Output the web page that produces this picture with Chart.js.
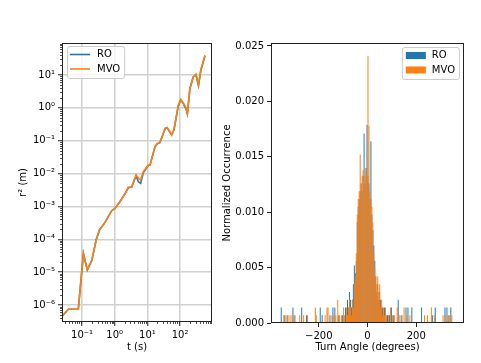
<!DOCTYPE html>
<html>
<head>
<meta charset="utf-8">
<script src="https://cdn.jsdelivr.net/npm/chart.js@4.4.0/dist/chart.umd.min.js"></script>
<style>
  body { margin: 0; background: #fff; }
  #wrap { position: relative; width: 481px; height: 363px; }
  canvas { position: absolute; top: 0; }
  #msdChart { left: 0; }
  #angleChart { left: 216px; }
</style>
</head>
<body>
<div id="wrap">
  <canvas id="msdChart" width="240" height="363"></canvas>
  <canvas id="angleChart" width="265" height="363"></canvas>
</div>
<script>
// left panel: r^2 vs t (log-log)
const timeSec = [0.025, 0.038, 0.077, 0.11, 0.145, 0.2, 0.27, 0.34, 0.5, 0.81,
  1.02, 1.45, 2.0, 2.6, 3.3, 4.5, 5.3, 6.2, 7.5, 10.6,
  12, 17, 20, 24, 35, 40, 49, 55, 65, 88,
  105, 125, 150, 167, 200, 253, 306, 365, 430, 490, 575];
const roR2 = [4.6e-7, 7.4e-7, 7.4e-7, 3.7e-5, 1.17e-5, 2.3e-5, 9.5e-5, 1.9e-4, 3.2e-4, 7.4e-4,
  8.7e-4, 1.4e-3, 2.3e-3, 3.7e-3, 3.9e-3, 8.6e-3, 5.6e-3, 5.0e-3, 1.05e-2, 1.75e-2,
  1.8e-2, 6.4e-2, 8.0e-2, 8.7e-2, 0.23, 0.25, 0.18, 0.15, 0.21, 1.15,
  1.75, 1.35, 0.95, 0.65, 3.9, 8.7, 10.2, 4.8, 13.5, 22, 38];
const mvoR2 = [4.6e-7, 7.4e-7, 7.4e-7, 3.7e-5, 1.17e-5, 2.3e-5, 9.5e-5, 1.9e-4, 3.2e-4, 7.4e-4,
  8.7e-4, 1.4e-3, 2.3e-3, 3.8e-3, 3.9e-3, 9.1e-3, 7.3e-3, 6.3e-3, 1.14e-2, 1.8e-2,
  1.8e-2, 6.6e-2, 8.3e-2, 8.7e-2, 0.24, 0.25, 0.19, 0.15, 0.22, 1.2,
  1.8, 1.4, 1.04, 0.67, 4.0, 8.9, 10.5, 5.0, 14, 23, 40];
const timeTicks = [0.1, 1, 10, 100];
const r2Ticks = [1e-6, 1e-5, 1e-4, 1e-3, 1e-2, 1e-1, 1, 10];

// right panel: turn angle histogram (4 degree bins, bin centres)
const roAngles = [-354, -342, -330, -306, -298, -270, -250, -194, -186, -154, -142, -134, -118, -102, -90, -82, -78, -74, -70,
  -66, -62, -58, -54, -50, -46, -42, -38, -34, -30, -26, -22, -18, -14, -10, -6, -2,
  2, 6, 10, 14, 18, 22, 26, 30, 34, 38, 42, 46, 50, 54, 58, 62, 66,
  70, 82, 90, 98, 106, 126, 138, 158, 166, 182, 222, 266, 278, 318, 326, 334, 342];
const roDensity = [0.0014, 0.0007, 0.0007, 0.0014, 0.0007, 0.0014, 0.0007, 0.0014, 0.0007, 0.0007, 0.0014, 0.0014, 0.0007, 0.0007, 0.0014, 0.0021, 0.0014, 0.0028, 0.0021,
  0.0014, 0.0021, 0.0035, 0.0052, 0.0045, 0.0056, 0.0091, 0.0105, 0.0112, 0.0119, 0.0126, 0.0119, 0.0133, 0.0171, 0.0126, 0.0140, 0.0179,
  0.0133, 0.0126, 0.0112, 0.0164, 0.0098, 0.0084, 0.0070, 0.0056, 0.0042, 0.0028, 0.0035, 0.0021, 0.0028, 0.0021, 0.0014, 0.0014, 0.0007,
  0.0014, 0.0007, 0.0007, 0.0014, 0.0007, 0.0021, 0.0007, 0.0014, 0.0014, 0.0014, 0.0014, 0.0007, 0.0014, 0.0014, 0.0014, 0.0007, 0.0014];
const mvoAngles = [-342, -338, -326, -318, -310, -302, -278, -262, -246, -214, -210, -174, -166, -162, -146, -138, -130, -122, -114, -106, -98, -94, -86, -82, -78, -74, -70,
  -66, -62, -58, -54, -50, -46, -42, -38, -34, -30, -26, -22, -18, -14, -10, -6, -2,
  2, 6, 10, 14, 18, 22, 26, 30, 34, 38, 42, 46, 50, 54, 58, 62, 66,
  70, 74, 78, 86, 94, 102, 110, 122, 130, 142, 150, 162, 174, 234, 246, 262, 274, 310, 318, 330, 338, 346];
const mvoDensity = [0.0007, 0.0007, 0.0007, 0.0007, 0.0007, 0.0007, 0.0007, 0.0007, 0.0007, 0.0014, 0.0007, 0.0007, 0.0014, 0.0014, 0.0007, 0.0007, 0.0007, 0.0021, 0.0007, 0.0007, 0.0014, 0.0007, 0.0014, 0.0007, 0.0014, 0.0021, 0.0014,
  0.0007, 0.0021, 0.0014, 0.0035, 0.0042, 0.0063, 0.0098, 0.0112, 0.0119, 0.0152, 0.0126, 0.0133, 0.0138, 0.0126, 0.0133, 0.0140, 0.0133,
  0.0241, 0.0178, 0.0119, 0.0112, 0.0105, 0.0091, 0.0063, 0.0049, 0.0042, 0.0035, 0.0042, 0.0028, 0.0035, 0.0014, 0.0021, 0.0007, 0.0014,
  0.0007, 0.0014, 0.0007, 0.0007, 0.0014, 0.0007, 0.0007, 0.0014, 0.0007, 0.0007, 0.0014, 0.0007, 0.0007, 0.0007, 0.0007, 0.0014, 0.0007, 0.0007, 0.0007, 0.0007, 0.0007, 0.0007];
const angleTicks = [-200, 0, 200];
const densityTicks = [0, 0.005, 0.010, 0.015, 0.020, 0.025];

const BLUE = '#1f77b4';
const ORANGE = '#ff7f0e';

Chart.defaults.font.family = '"DejaVu Sans", sans-serif';
Chart.defaults.font.size = 10;
Chart.defaults.color = '#000';

function powLabel(v) {
  const sup = {'-': '\u207b', '0': '\u2070', '1': '\u00b9', '2': '\u00b2', '3': '\u00b3',
    '4': '\u2074', '5': '\u2075', '6': '\u2076', '7': '\u2077', '8': '\u2078', '9': '\u2079'};
  const e = Math.round(Math.log10(v));
  return '10' + String(e).split('').map(c => sup[c]).join('');
}

// black box round the plot area, like matplotlib spines
const framePlugin = {
  id: 'frame',
  afterDatasetsDraw(chart) {
    const {ctx, chartArea: a} = chart;
    ctx.save();
    ctx.strokeStyle = '#222';
    ctx.lineWidth = 1;
    ctx.strokeRect(a.left + 0.5, a.top + 0.5, a.right - a.left - 1, a.bottom - a.top - 1);
    ctx.restore();
  }
};

// small minor ticks on log axes
const minorTickPlugin = {
  id: 'minorTicks',
  afterDraw(chart) {
    const {ctx, chartArea: a} = chart;
    const xs = chart.scales.x, ys = chart.scales.y;
    ctx.save();
    ctx.strokeStyle = '#222';
    ctx.lineWidth = 0.8;
    ctx.beginPath();
    for (let e = -8; e <= 3; e++) {
      for (let k = 2; k <= 9; k++) {
        const v = k * Math.pow(10, e);
        if (v > xs.min && v < xs.max) {
          const px = Math.round(xs.getPixelForValue(v)) + 0.5;
          ctx.moveTo(px, a.bottom);
          ctx.lineTo(px, a.bottom + 2);
        }
        if (v > ys.min && v < ys.max) {
          const py = Math.round(ys.getPixelForValue(v)) + 0.5;
          ctx.moveTo(a.left, py);
          ctx.lineTo(a.left - 2, py);
        }
      }
    }
    ctx.stroke();
    ctx.restore();
  }
};

// framed legend inside the plot area
function boxLegend(kind, side) {
  return {
    id: 'boxLegend',
    afterDraw(chart) {
      const {ctx, chartArea: a} = chart;
      const sets = chart.data.datasets;
      ctx.save();
      ctx.font = '10px "DejaVu Sans"';
      const textW = Math.max(...sets.map(d => ctx.measureText(d.label).width));
      const w = 30 + textW + 4;
      const h = 32;
      const x = side === 'left' ? a.left + 5 : a.right - 5 - w;
      const y = side === 'left' ? a.top + 3 : a.top + 4;
      ctx.beginPath();
      ctx.roundRect(x + 0.5, y + 0.5, w, h, 2.5);
      ctx.fillStyle = 'rgba(255,255,255,0.8)';
      ctx.fill();
      ctx.strokeStyle = '#cccccc';
      ctx.lineWidth = 1;
      ctx.stroke();
      sets.forEach((d, i) => {
        const cy = y + 8.5 + i * 14.5;
        if (kind === 'line') {
          ctx.strokeStyle = d.borderColor;
          ctx.lineWidth = 1.6;
          ctx.beginPath();
          ctx.moveTo(x + 3, cy);
          ctx.lineTo(x + 23, cy);
          ctx.stroke();
        } else {
          ctx.fillStyle = d.backgroundColor;
          ctx.fillRect(x + 4, cy - 3.5, 20, 7);
        }
        ctx.fillStyle = '#000';
        ctx.textBaseline = 'middle';
        ctx.fillText(d.label, x + 30, cy);
      });
      ctx.restore();
    }
  };
}

function createMsdChart() {
  const ctx = document.getElementById('msdChart').getContext('2d');
  return new Chart(ctx, {
    type: 'line',
    data: {
      datasets: [
        {
          label: 'RO',
          data: timeSec.map((t, i) => ({x: t, y: roR2[i]})),
          borderColor: BLUE,
          borderWidth: 1.6,
          pointRadius: 0,
          tension: 0,
          order: 1
        },
        {
          label: 'MVO',
          data: timeSec.map((t, i) => ({x: t, y: mvoR2[i]})),
          borderColor: ORANGE,
          borderWidth: 1.6,
          pointRadius: 0,
          tension: 0,
          order: 0
        }
      ]
    },
    options: {
      responsive: false,
      animation: false,
      layout: { padding: { top: 43, right: 28, left: 0, bottom: 0 } },
      plugins: { legend: { display: false }, tooltip: { enabled: false } },
      scales: {
        x: {
          type: 'logarithmic',
          min: 0.0244,
          max: 946,
          afterBuildTicks: s => { s.ticks = timeTicks.map(v => ({value: v})); },
          afterFit: s => { s.height = 41; },
          grid: { color: '#d0d0d0', lineWidth: 1.5, tickColor: '#222', tickLength: 4, tickWidth: 1 },
          border: { display: false },
          ticks: { callback: v => powLabel(v), maxRotation: 0, autoSkip: false, padding: 3 },
          title: { display: true, text: 't (s)', padding: { top: 0, bottom: 10 } }
        },
        y: {
          type: 'logarithmic',
          min: 3.04e-7,
          max: 94,
          afterBuildTicks: s => { s.ticks = r2Ticks.map(v => ({value: v})); },
          afterFit: s => { s.width = 62; },
          grid: { color: '#d0d0d0', lineWidth: 1.5, tickColor: '#222', tickLength: 4, tickWidth: 1 },
          border: { display: false },
          ticks: { callback: v => powLabel(v), autoSkip: false, padding: 3 },
          title: { display: true, text: 'r\u00b2 (m)', padding: { top: 17, bottom: 0 } }
        }
      }
    },
    plugins: [framePlugin, minorTickPlugin, boxLegend('line', 'left')]
  });
}

function createAngleChart() {
  const ctx = document.getElementById('angleChart').getContext('2d');
  const barStyle = { grouped: false, barPercentage: 1, categoryPercentage: 1, borderWidth: 0, inflateAmount: 0 };
  return new Chart(ctx, {
    type: 'bar',
    data: {
      datasets: [
        {
          label: 'RO',
          data: roAngles.map((a, i) => ({x: a, y: roDensity[i]})),
          backgroundColor: BLUE,
          order: 1,
          ...barStyle
        },
        {
          label: 'MVO',
          data: mvoAngles.map((a, i) => ({x: a, y: mvoDensity[i]})),
          backgroundColor: ORANGE,
          order: 0,
          ...barStyle
        }
      ]
    },
    options: {
      responsive: false,
      animation: false,
      layout: { padding: { top: 43, right: 17, left: 0, bottom: 0 } },
      plugins: { legend: { display: false }, tooltip: { enabled: false } },
      scales: {
        x: {
          type: 'linear',
          min: -396,
          max: 396,
          offset: false,
          afterBuildTicks: s => { s.ticks = angleTicks.map(v => ({value: v})); },
          afterFit: s => { s.height = 40; },
          grid: { offset: false, drawOnChartArea: false, tickColor: '#222', tickLength: 4, tickWidth: 1 },
          border: { display: false },
          ticks: { callback: v => v < 0 ? '\u2212' + Math.abs(v) : String(v), maxRotation: 0, autoSkip: false, padding: 3 },
          title: { display: true, text: 'Turn Angle (degrees)', padding: { top: 0, bottom: 10 } }
        },
        y: {
          min: 0,
          max: 0.02527,
          afterBuildTicks: s => { s.ticks = densityTicks.map(v => ({value: v})); },
          afterFit: s => { s.width = 55; },
          grid: { drawOnChartArea: false, tickColor: '#222', tickLength: 4, tickWidth: 1 },
          border: { display: false },
          ticks: { callback: v => v.toFixed(3), autoSkip: false, padding: 3 },
          title: { display: true, text: 'Normalized Occurrence', padding: { top: 5, bottom: 0 } }
        }
      }
    },
    plugins: [framePlugin, boxLegend('patch', 'right')]
  });
}

createMsdChart();
createAngleChart();
</script>
</body>
</html>
